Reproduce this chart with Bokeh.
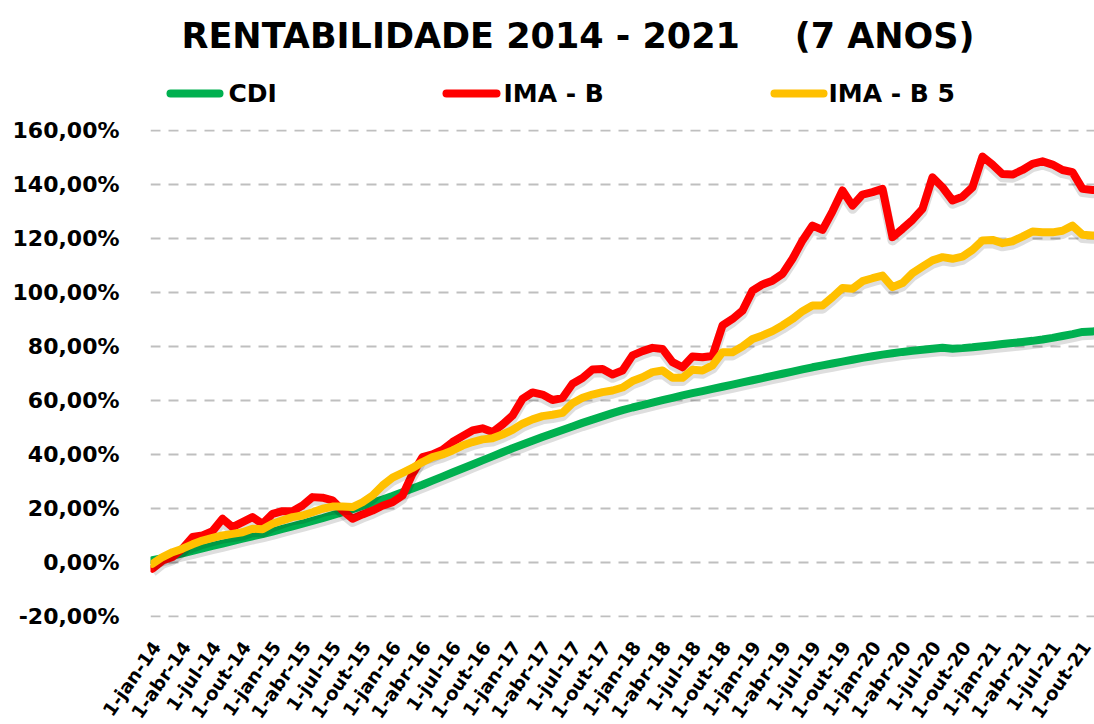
import math
from bokeh.plotting import figure
from bokeh.layouts import column, row
from bokeh.models import Range1d, FixedTicker
from bokeh.embed import file_html
from bokeh.resources import INLINE
from bokeh.core.properties import value

# month index: 0 = jan-14 ... 95 = dez-21
months = list(range(96))

tick_months = list(range(0, 96, 3))
tick_labels = ["1-jan-14", "1-abr-14", "1-jul-14", "1-out-14",
               "1-jan-15", "1-abr-15", "1-jul-15", "1-out-15",
               "1-jan-16", "1-abr-16", "1-jul-16", "1-out-16",
               "1-jan-17", "1-abr-17", "1-jul-17", "1-out-17",
               "1-jan-18", "1-abr-18", "1-jul-18", "1-out-18",
               "1-jan-19", "1-abr-19", "1-jul-19", "1-out-19",
               "1-jan-20", "1-abr-20", "1-jul-20", "1-out-20",
               "1-jan-21", "1-abr-21", "1-jul-21", "1-out-21"]

y_ticks = [-20, 0, 20, 40, 60, 80, 100, 120, 140, 160]
y_labels = ["-20,00%", "0,00%", "20,00%", "40,00%", "60,00%",
            "80,00%", "100,00%", "120,00%", "140,00%", "160,00%"]

cdi = [0.8, 1.6, 2.5, 3.4, 4.3, 5.2, 6.1, 7.0, 7.9, 8.8, 9.7, 10.5,
       11.4, 12.4, 13.4, 14.4, 15.4, 16.4, 17.5, 18.6, 19.7, 20.9, 22.1, 23.3,
       24.6, 26.0, 27.4, 28.8, 30.3, 31.8, 33.3, 34.8, 36.3, 37.8, 39.3, 40.8,
       42.3, 43.7, 45.1, 46.5, 47.8, 49.1, 50.4, 51.7, 52.9, 54.1, 55.3, 56.4,
       57.4, 58.3, 59.2, 60.1, 61.0, 61.9, 62.7, 63.5, 64.3, 65.1, 65.9, 66.7,
       67.5, 68.3, 69.1, 69.9, 70.7, 71.5, 72.3, 73.0, 73.7, 74.4, 75.1, 75.8,
       76.4, 77.0, 77.5, 78.0, 78.4, 78.8, 79.2, 79.5, 79.2, 79.4, 79.7, 80.1,
       80.5, 80.9, 81.3, 81.7, 82.1, 82.6, 83.2, 83.9, 84.6, 85.4, 85.6, 85.7]

ima_b = [-2.3, 0.7, 2.0, 5.1, 9.4, 10.0, 11.6, 16.2, 13.1, 14.9, 16.8, 14.3,
         18.0, 19.0, 19.0, 21.1, 24.2, 24.0, 23.0, 19.3, 16.2, 17.8, 19.2, 21.0,
         22.3, 24.8, 32.8, 39.0, 40.0, 41.7, 44.6, 46.8, 48.9, 49.7, 48.3, 51.1,
         54.4, 60.6, 63.0, 62.2, 60.2, 60.9, 66.2, 68.3, 71.5, 71.7, 69.6, 71.1,
         76.7, 78.3, 79.5, 79.1, 74.2, 72.3, 76.3, 76.0, 76.5, 87.8, 90.2, 93.3,
         100.7, 103.0, 104.4, 106.9, 112.5, 119.3, 124.8, 123.2, 130.1, 137.8, 132.2, 136.3,
         137.2, 138.4, 120.5, 123.6, 126.9, 131.0, 142.7, 139.0, 134.1, 135.5, 139.0, 150.4,
         147.4, 143.9, 143.7, 145.4, 147.7, 148.6, 147.4, 145.4, 144.6, 138.4, 138.0, 138.0]

ima_b5 = [-0.5, 2.0, 3.8, 5.1, 6.7, 8.1, 9.1, 10.0, 10.6, 11.2, 12.5, 12.3,
          14.3, 15.6, 16.8, 17.4, 18.6, 19.9, 20.7, 20.7, 20.5, 22.3, 24.8, 28.5,
          31.4, 33.2, 35.0, 37.2, 39.0, 40.0, 41.5, 43.3, 44.6, 45.6, 46.0, 47.4,
          49.1, 51.4, 53.0, 54.2, 54.7, 55.4, 59.0, 61.0, 62.2, 63.1, 63.7, 64.8,
          67.2, 68.6, 70.5, 71.1, 68.4, 68.4, 71.4, 71.1, 73.0, 77.9, 77.9, 80.0,
          82.8, 84.1, 85.7, 87.8, 90.2, 93.1, 95.2, 95.2, 98.3, 101.7, 101.4, 104.2,
          105.3, 106.3, 102.0, 103.5, 107.2, 109.6, 111.9, 113.1, 112.5, 113.3, 115.8, 119.3,
          119.5, 118.3, 119.0, 120.7, 122.6, 122.3, 122.3, 122.9, 124.8, 121.4, 121.1, 121.0]

series_names = ["CDI", "IMA - B", "IMA - B 5"]
series_colors = ["#00B050", "#FF0000", "#FFC000"]
series_values = [cdi, ima_b, ima_b5]

FONT = "DejaVu Sans"
W = 1094
FRAME_LEFT = 150
HEAD_H = 110
MAIN_TOP = 19
FRAME_H = 488
MAIN_BOTTOM = 12
MAIN_H = MAIN_TOP + FRAME_H + MAIN_BOTTOM
FOOT_H = 724 - HEAD_H - MAIN_H
PX_PER_MONTH = (W - FRAME_LEFT) / 94.4


def bare(fig):
    fig.outline_line_color = None
    fig.background_fill_color = "white"
    fig.border_fill_color = "white"
    return fig


# ---------------- header: title + legend (page pixel coordinates) ----------------
head = bare(figure(width=W, height=HEAD_H, output_backend="svg",
                   toolbar_location=None, x_range=Range1d(FRAME_LEFT, W),
                   y_range=Range1d(HEAD_H, 0), x_axis_location=None,
                   y_axis_location=None, min_border_left=FRAME_LEFT,
                   min_border_right=0, min_border_top=0, min_border_bottom=0))
head.grid.visible = False

head.text([181], [35], text=["RENTABILIDADE 2014 - 2021"],
          text_font=value(FONT), text_font_style="bold",
          text_font_size=value("35px"), text_align="left",
          text_baseline="middle", text_color="black")
head.text([974], [35], text=["(7 ANOS)"],
          text_font=value(FONT), text_font_style="bold",
          text_font_size=value("35px"), text_align="right",
          text_baseline="middle", text_color="black")

legend_key_x = [(170, 219), (446, 496), (774, 823)]
legend_text_x = [228, 503, 828]
legend_y = 93
for name, color, (x0, x1), tx in zip(series_names, series_colors,
                                     legend_key_x, legend_text_x):
    head.line([x0, x1], [legend_y, legend_y], line_color=color, line_width=8,
              line_cap="round")
    head.text([tx], [legend_y], text=[name], text_font=value(FONT),
              text_font_style="bold", text_font_size=value("25px"),
              text_align="left", text_baseline="middle", text_color="black")

# ---------------- main chart ----------------
p = bare(figure(width=W, height=MAIN_H, output_backend="svg",
                toolbar_location=None,
                x_range=Range1d(-0.2, 94.2), y_range=Range1d(-20.4, 160.4),
                x_axis_location=None,
                min_border_left=FRAME_LEFT, min_border_right=0,
                min_border_top=MAIN_TOP, min_border_bottom=MAIN_BOTTOM))

for name, color, vals in zip(series_names, series_colors, series_values):
    shadow = [v - 1.2 for v in vals]
    p.line(months, shadow, line_color="black", line_alpha=0.13, line_width=10,
           line_join="round")
    p.line(months, vals, line_color=color, line_width=8,
           line_join="round", line_cap="round")

p.yaxis.ticker = FixedTicker(ticks=y_ticks)
p.yaxis.major_label_overrides = dict(zip(y_ticks, y_labels))
p.yaxis.major_label_text_font_size = "22px"
p.yaxis.major_label_standoff = 31
p.yaxis.major_label_text_font = FONT
p.yaxis.major_label_text_font_style = "bold"
p.yaxis.major_label_text_color = "black"
p.yaxis.axis_line_color = None
p.yaxis.major_tick_line_color = None
p.yaxis.minor_tick_line_color = None
p.yaxis.major_tick_out = 0
p.yaxis.major_tick_in = 0

p.grid.visible = False
p.ygrid.visible = True
p.ygrid.grid_line_color = "#BFBFBF"
p.ygrid.grid_line_width = 2
p.ygrid.grid_line_dash = "10 8"

# ---------------- footer: rotated date labels on the same month scale ----------------
foot = bare(figure(width=W, height=FOOT_H, output_backend="svg",
                   toolbar_location=None,
                   x_range=Range1d(-0.2 - FRAME_LEFT / PX_PER_MONTH, 94.2),
                   y_range=Range1d(0, FOOT_H), x_axis_location=None,
                   y_axis_location=None, min_border=0))
foot.grid.visible = False
label_x = [m + 0.4 for m in tick_months]
foot.text(label_x, [FOOT_H - 14] * len(tick_months), text=tick_labels,
          angle=math.radians(55), text_font=value(FONT),
          text_font_style="bold", text_font_size=value("18.5px"),
          text_align="right", text_baseline="middle", text_color="black")

layout = column(head, p, row(foot), spacing=0)
open("out.html", "w").write(file_html(layout, INLINE))
